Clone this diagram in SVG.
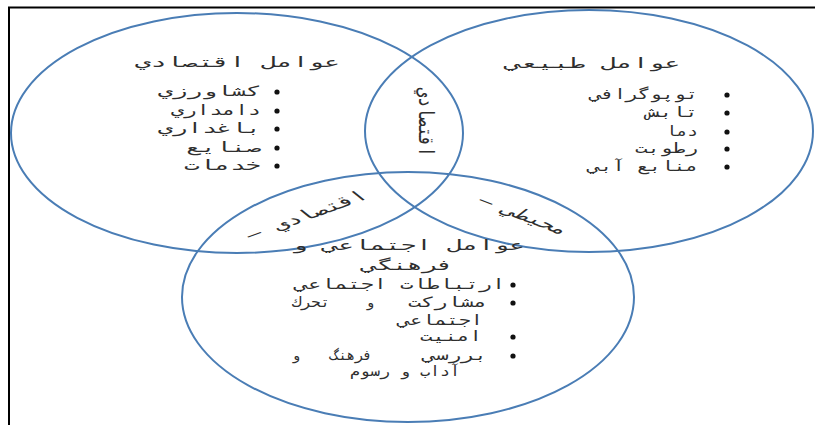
<svg xmlns="http://www.w3.org/2000/svg" width="815" height="425" viewBox="0 0 815 425">
<style>
.ring{fill:none;stroke:#4A7DB5;stroke-width:2}
.t{font-family:"DejaVu Sans Mono","DejaVu Sans",monospace;font-size:14px;fill:#2e2e2e}
.e{text-anchor:end}
.m{text-anchor:middle}
.b{fill:#111}
.frame{stroke:#000;stroke-width:2;fill:none}
</style>
<path class="frame" d="M9,425 V7.5 H815"/>
<g id="economic">
<ellipse class="ring" cx="237" cy="133" rx="226" ry="120"/>
<text class="t m" x="237.5" y="67" textLength="205" lengthAdjust="spacingAndGlyphs">عوامل اقتصادي</text>
<text class="t e" x="261" y="96" textLength="103" lengthAdjust="spacingAndGlyphs">كشاورزي</text>
<text class="t e" x="261" y="115" textLength="90" lengthAdjust="spacingAndGlyphs">دامداري</text>
<text class="t e" x="261" y="133" textLength="103" lengthAdjust="spacingAndGlyphs">باغداري</text>
<text class="t e" x="261" y="152" textLength="75" lengthAdjust="spacingAndGlyphs">صنايع</text>
<text class="t e" x="261" y="170" textLength="77" lengthAdjust="spacingAndGlyphs">خدمات</text>
<circle class="b" cx="277" cy="92" r="2.6"/>
<circle class="b" cx="277" cy="111" r="2.6"/>
<circle class="b" cx="277" cy="129" r="2.6"/>
<circle class="b" cx="277" cy="148" r="2.6"/>
<circle class="b" cx="277" cy="166" r="2.6"/>
</g>
<g id="natural">
<ellipse class="ring" cx="589" cy="131" rx="224" ry="121"/>
<text class="t m" x="593" y="68" textLength="175" lengthAdjust="spacingAndGlyphs">عوامل طبيعي</text>
<text class="t e" x="698" y="99" textLength="108" lengthAdjust="spacingAndGlyphs">توپوگرافي</text>
<text class="t e" x="698" y="117" textLength="51" lengthAdjust="spacingAndGlyphs">تابش</text>
<text class="t e" x="698" y="136" textLength="32" lengthAdjust="spacingAndGlyphs">دما</text>
<text class="t e" x="698" y="153" textLength="63" lengthAdjust="spacingAndGlyphs">رطوبت</text>
<text class="t e" x="698" y="171" textLength="110" lengthAdjust="spacingAndGlyphs">منابع آبي</text>
<circle class="b" cx="727" cy="95" r="2.6"/>
<circle class="b" cx="727" cy="113" r="2.6"/>
<circle class="b" cx="727" cy="132" r="2.6"/>
<circle class="b" cx="727" cy="149" r="2.6"/>
<circle class="b" cx="727" cy="167" r="2.6"/>
</g>
<g id="social">
<ellipse class="ring" cx="408" cy="297" rx="226" ry="125"/>
<text class="t m" x="408.5" y="250" textLength="233" lengthAdjust="spacingAndGlyphs">عوامل اجتماعي و</text>
<text class="t m" x="407.5" y="270" textLength="91" lengthAdjust="spacingAndGlyphs">فرهنگي</text>
<text class="t e" x="505" y="289" textLength="210" lengthAdjust="spacingAndGlyphs">ارتباطات اجتماعي</text>
<text class="t e" x="487" y="307" textLength="79" lengthAdjust="spacingAndGlyphs">مشاركت</text>
<text class="t m" x="370" y="307">و</text>
<text class="t e" x="330" y="307" textLength="38" lengthAdjust="spacingAndGlyphs">تحرك</text>
<text class="t e" x="483" y="325" textLength="85" lengthAdjust="spacingAndGlyphs">اجتماعي</text>
<text class="t e" x="482" y="341" textLength="62" lengthAdjust="spacingAndGlyphs">امنيت</text>
<text class="t e" x="487" y="360" textLength="64" lengthAdjust="spacingAndGlyphs">بررسي</text>
<text class="t e" x="372" y="360" textLength="42" lengthAdjust="spacingAndGlyphs">فرهنگ</text>
<text class="t m" x="296" y="360">و</text>
<text class="t e" x="460" y="376" textLength="110" lengthAdjust="spacingAndGlyphs">آداب و رسوم</text>
<circle class="b" cx="513" cy="285" r="2.6"/>
<circle class="b" cx="513" cy="303" r="2.6"/>
<circle class="b" cx="513" cy="337" r="2.6"/>
<circle class="b" cx="513" cy="356" r="2.6"/>
</g>
<g id="overlaps">
<text class="t m" transform="translate(419,122) scale(1.5,1) rotate(90)" textLength="69" lengthAdjust="spacingAndGlyphs">اقتصادي</text>
<text class="t m" transform="translate(311,219) scale(1.85,1) rotate(-33.7)" textLength="77" lengthAdjust="spacingAndGlyphs">– اقتصادي</text>
<text class="t m" transform="translate(519,219) scale(1.85,1) rotate(35)" textLength="57" lengthAdjust="spacingAndGlyphs">– محيطي</text>
</g>
</svg>
